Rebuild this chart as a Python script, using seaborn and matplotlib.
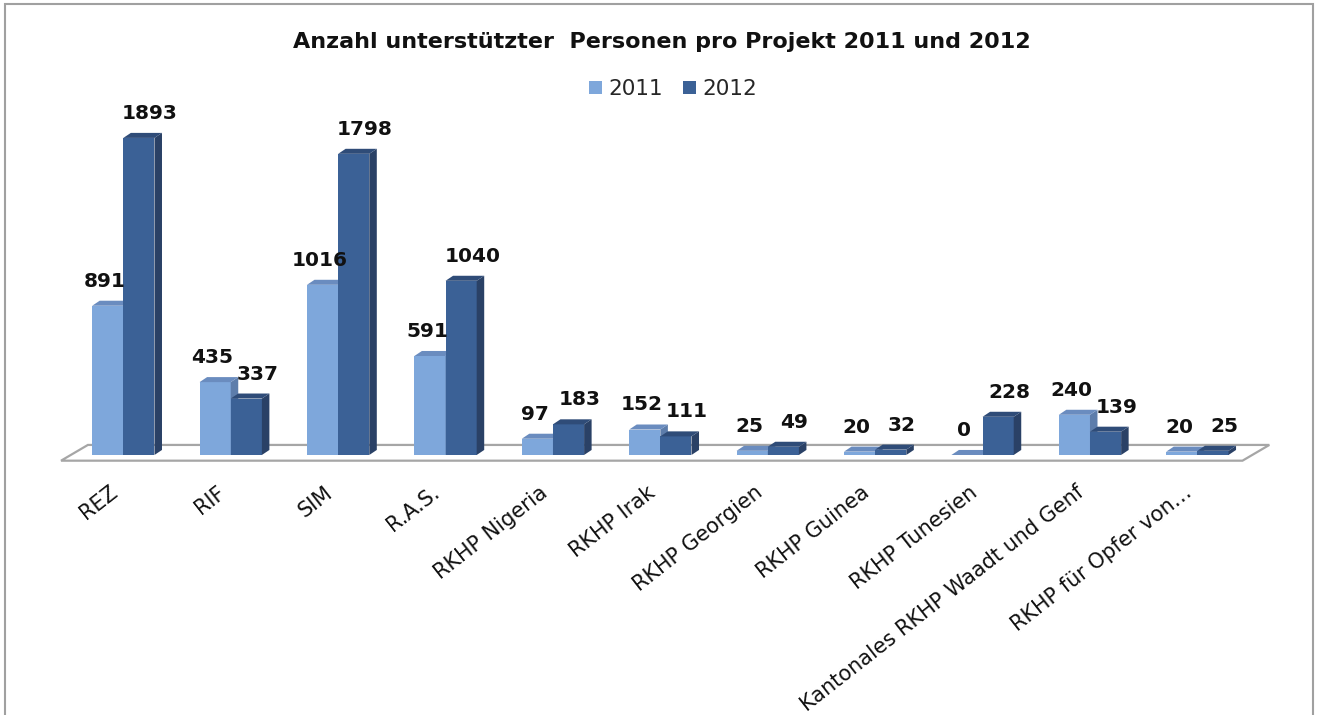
import matplotlib
matplotlib.use("Agg")
import pandas as pd
import matplotlib.pyplot as plt
import seaborn as sns
from matplotlib.patches import Polygon, Rectangle, Patch
from matplotlib.transforms import ScaledTranslation

# ------------------------------------------------------------------
# Data
# ------------------------------------------------------------------
categories = [
    "REZ", "RIF", "SIM", "R.A.S.", "RKHP Nigeria", "RKHP Irak",
    "RKHP Georgien", "RKHP Guinea", "RKHP Tunesien",
    "Kantonales RKHP Waadt und Genf", "RKHP für Opfer von…",
]
years = ["2011", "2012"]
values_2011 = [891, 435, 1016, 591, 97, 152, 25, 20, 0, 240, 20]
values_2012 = [1893, 337, 1798, 1040, 183, 111, 49, 32, 228, 139, 25]

TITLE = "Anzahl unterstützter  Personen pro Projekt 2011 und 2012"

df = pd.DataFrame({
    "Projekt": categories * 2,
    "Jahr": ["2011"] * len(categories) + ["2012"] * len(categories),
    "Personen": values_2011 + values_2012,
})

# colours of the fake 3D faces
FRONT = {"2011": "#7ea7db", "2012": "#3b6196"}
SIDE = {"2011": "#5d7dab", "2012": "#2a4166"}
TOP = {"2011": "#6a8cbf", "2012": "#2f4c78"}

# depth of the bars in data units (x: categories, y: persons)
DX, DY = 0.07, 30

sns.set_theme(style="white")
plt.rcParams["font.family"] = ["DejaVu Sans"]

fig = plt.figure(figsize=(13.18, 7.15), dpi=100)
ax = fig.add_axes([0.0406, 0.3496, 0.929, 0.506])

sns.barplot(
    data=df, x="Projekt", y="Personen", hue="Jahr",
    order=categories, hue_order=years, palette=FRONT,
    width=0.58, saturation=1, errorbar=None, legend=False,
    linewidth=0, ax=ax,
)

ax.set_xlim(-0.65, len(categories) - 1 + 0.75)
ax.set_ylim(-60, 2100)

# floor of the 3D chart
n = len(categories)
floor = Polygon(
    [(-0.58, -34), (n - 1 + 0.42, -34), (n - 1 + 0.67, 60), (-0.33, 60)],
    closed=True, facecolor="white", edgecolor="#a6a6a6", lw=1.6,
    zorder=1, clip_on=False,
)
ax.add_patch(floor)

# side and top faces + value labels
label_dx = {"2011": -2, "2012": 8}
for k, (year, cont) in enumerate(zip(years, ax.containers)):
    z = 2 + k
    for bar in cont:
        x0, w, h = bar.get_x(), bar.get_width(), bar.get_height()
        bar.set_zorder(z)
        side = Polygon(
            [(x0 + w, 0), (x0 + w + DX, DY), (x0 + w + DX, h + DY), (x0 + w, h)],
            closed=True, facecolor=SIDE[year], lw=0, zorder=z, clip_on=False,
        )
        top = Polygon(
            [(x0, h), (x0 + DX, h + DY), (x0 + w + DX, h + DY), (x0 + w, h)],
            closed=True, facecolor=TOP[year], lw=0, zorder=z, clip_on=False,
        )
        ax.add_patch(side)
        ax.add_patch(top)
        ax.annotate(
            f"{int(h)}", (x0 + w / 2, h), xytext=(label_dx[year], 13.7),
            textcoords="offset points", ha="center", va="baseline",
            fontsize=14.5, fontweight="bold", color="#111111", zorder=6,
        )

# axes cosmetics
for s in ax.spines.values():
    s.set_visible(False)
ax.set_yticks([])
ax.set_xlabel("")
ax.set_ylabel("")
ax.set_xticks(range(n))
ax.set_xticklabels(categories, rotation=38, ha="right", va="center",
                   rotation_mode="anchor", fontsize=15, color="#111111")
ax.tick_params(axis="x", length=0, pad=0)
shift = ScaledTranslation(-0.08, -0.25, fig.dpi_scale_trans)
for lbl in ax.get_xticklabels():
    lbl.set_transform(lbl.get_transform() + shift)

# title and legend
fig.text(0.502, 1 - 42 / 715, TITLE, ha="center", va="center",
         fontsize=16, fontweight="bold", color="#111111")
handles = [Patch(facecolor=FRONT[y], edgecolor="none") for y in years]
fig.legend(handles, years, loc="center", bbox_to_anchor=(673 / 1318, 1 - 89 / 715),
           ncol=2, frameon=False, handlelength=0.6, handleheight=0.6,
           handletextpad=0.3, columnspacing=0.9, fontsize=15.5)

# chart frame
fig.add_artist(Rectangle((5 / 1318, -0.02), 1308 / 1318, 1.02 - 4 / 715,
                         transform=fig.transFigure, fill=False,
                         edgecolor="#a0a0a0", lw=1.5))

fig.savefig("out.png", dpi=100)
